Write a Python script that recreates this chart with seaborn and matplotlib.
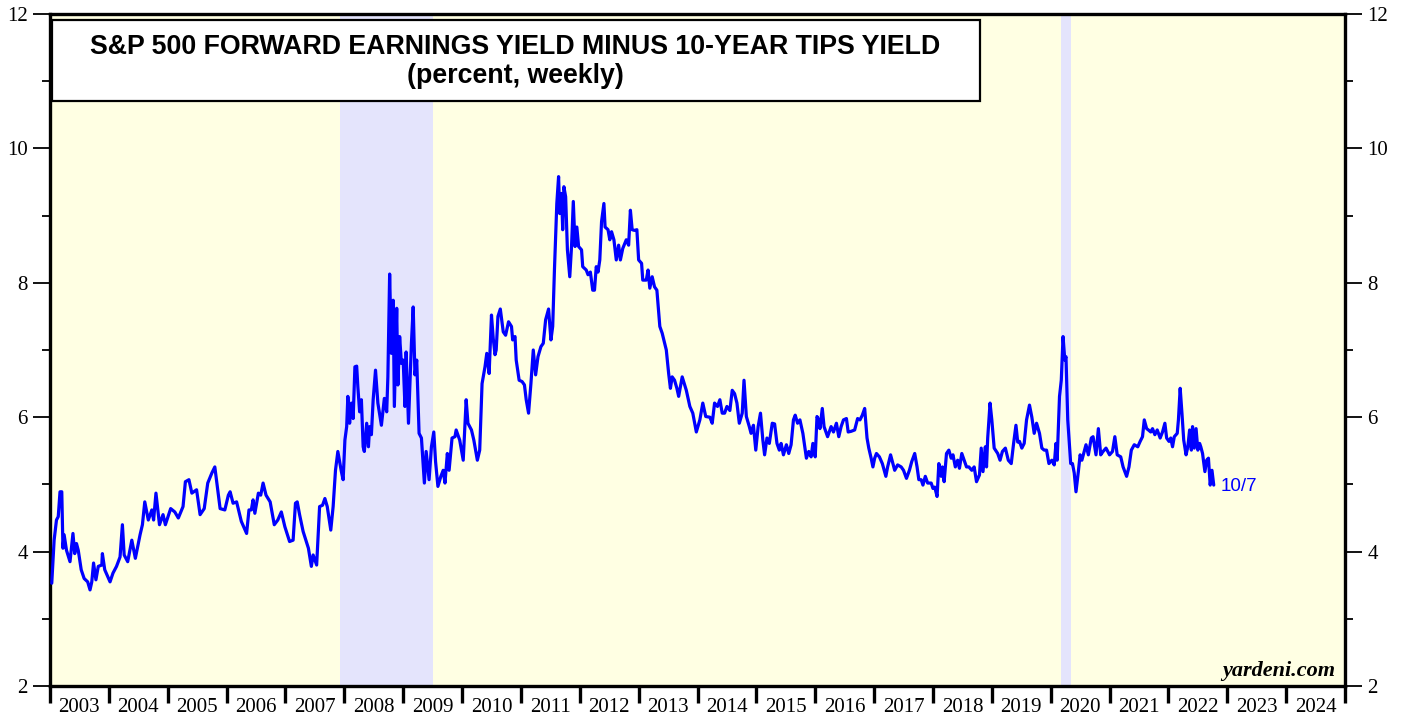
import pandas as pd
import matplotlib
matplotlib.use("Agg")
import matplotlib.pyplot as plt
import seaborn as sns
from matplotlib.patches import Rectangle

# weekly readings, dates as decimal years
weeks = [
    2003.03, 2003.07, 2003.11, 2003.14, 2003.17, 2003.20, 2003.22, 2003.24, 2003.28, 2003.34,
    2003.39, 2003.42, 2003.45, 2003.48, 2003.53, 2003.58, 2003.64, 2003.68, 2003.71, 2003.74,
    2003.78, 2003.82, 2003.88, 2003.89, 2003.93,
    2004.02, 2004.07, 2004.13, 2004.19, 2004.23, 2004.26, 2004.32, 2004.39, 2004.45, 2004.53,
    2004.57, 2004.61, 2004.67, 2004.73, 2004.76, 2004.80, 2004.86, 2004.92, 2004.96,
    2005.05, 2005.12, 2005.18, 2005.26, 2005.30, 2005.36, 2005.41, 2005.49, 2005.55, 2005.62,
    2005.68, 2005.75, 2005.80, 2005.89, 2005.97,
    2006.03, 2006.06, 2006.11, 2006.17, 2006.25, 2006.34, 2006.38, 2006.42, 2006.45, 2006.48,
    2006.54, 2006.58, 2006.62, 2006.67, 2006.74, 2006.81, 2006.87, 2006.93, 2006.99,
    2007.07, 2007.13, 2007.17, 2007.20, 2007.24, 2007.30, 2007.39, 2007.44, 2007.47, 2007.53,
    2007.58, 2007.63, 2007.67, 2007.71, 2007.77, 2007.81, 2007.85, 2007.89, 2007.95, 2007.98,
    2008.01, 2008.04, 2008.06, 2008.09, 2008.12, 2008.15, 2008.18, 2008.21, 2008.23, 2008.26,
    2008.29, 2008.32, 2008.34, 2008.38, 2008.41, 2008.43, 2008.46, 2008.49, 2008.53, 2008.57,
    2008.63, 2008.68, 2008.72, 2008.74, 2008.77, 2008.80, 2008.83, 2008.85, 2008.89, 2008.91,
    2008.94, 2008.97,
    2009.00, 2009.03, 2009.05, 2009.09, 2009.14, 2009.17, 2009.20, 2009.23, 2009.27, 2009.31,
    2009.36, 2009.39, 2009.42, 2009.44, 2009.48, 2009.52, 2009.55, 2009.59, 2009.64, 2009.68,
    2009.71, 2009.75, 2009.78, 2009.83, 2009.88, 2009.90, 2009.96,
    2010.02, 2010.07, 2010.10, 2010.16, 2010.20, 2010.26, 2010.30, 2010.34, 2010.39, 2010.42,
    2010.46, 2010.50, 2010.53, 2010.56, 2010.58, 2010.61, 2010.65, 2010.70, 2010.74, 2010.79,
    2010.84, 2010.86, 2010.90, 2010.92, 2010.97,
    2011.02, 2011.06, 2011.09, 2011.13, 2011.17, 2011.21, 2011.25, 2011.29, 2011.34, 2011.38,
    2011.42, 2011.47, 2011.51, 2011.54, 2011.57, 2011.61, 2011.64, 2011.66, 2011.69, 2011.71,
    2011.73, 2011.76, 2011.79, 2011.83, 2011.86, 2011.89, 2011.92, 2011.95, 2011.98,
    2012.03, 2012.05, 2012.11, 2012.14, 2012.18, 2012.22, 2012.25, 2012.28, 2012.31, 2012.34,
    2012.37, 2012.41, 2012.43, 2012.48, 2012.51, 2012.54, 2012.58, 2012.62, 2012.66, 2012.69,
    2012.73, 2012.79, 2012.83, 2012.86, 2012.89, 2012.93, 2012.97,
    2013.00, 2013.05, 2013.07, 2013.13, 2013.16, 2013.19, 2013.23, 2013.27, 2013.31, 2013.36,
    2013.40, 2013.47, 2013.51, 2013.54, 2013.57, 2013.61, 2013.65, 2013.68, 2013.74, 2013.81,
    2013.87, 2013.92, 2013.98,
    2014.04, 2014.09, 2014.14, 2014.21, 2014.25, 2014.29, 2014.34, 2014.38, 2014.42, 2014.46,
    2014.50, 2014.55, 2014.59, 2014.63, 2014.67, 2014.71, 2014.76, 2014.79, 2014.83, 2014.88,
    2014.91, 2014.95, 2014.99,
    2015.03, 2015.07, 2015.11, 2015.14, 2015.18, 2015.22, 2015.27, 2015.31, 2015.35, 2015.39,
    2015.42, 2015.46, 2015.51, 2015.55, 2015.59, 2015.63, 2015.66, 2015.70, 2015.74, 2015.79,
    2015.85, 2015.89, 2015.93, 2015.96,
    2016.00, 2016.03, 2016.06, 2016.08, 2016.12, 2016.15, 2016.21, 2016.27, 2016.31, 2016.36,
    2016.40, 2016.44, 2016.48, 2016.53, 2016.56, 2016.61, 2016.67, 2016.72, 2016.76, 2016.80,
    2016.84, 2016.88, 2016.91, 2016.95, 2016.98,
    2017.01, 2017.04, 2017.09, 2017.14, 2017.20, 2017.23, 2017.28, 2017.35, 2017.40, 2017.46,
    2017.50, 2017.55, 2017.60, 2017.64, 2017.69, 2017.73, 2017.76, 2017.80, 2017.83, 2017.87,
    2017.91, 2017.97,
    2018.00, 2018.03, 2018.07, 2018.10, 2018.14, 2018.16, 2018.19, 2018.23, 2018.27, 2018.31,
    2018.34, 2018.38, 2018.42, 2018.45, 2018.49, 2018.53, 2018.57, 2018.61, 2018.66, 2018.70,
    2018.74, 2018.79, 2018.82, 2018.85, 2018.89, 2018.91, 2018.93, 2018.97,
    2019.00, 2019.04, 2019.10, 2019.14, 2019.18, 2019.23, 2019.28, 2019.33, 2019.37, 2019.41,
    2019.44, 2019.47, 2019.51, 2019.55, 2019.59, 2019.64, 2019.68, 2019.72, 2019.76, 2019.81,
    2019.85, 2019.89, 2019.93, 2019.97,
    2020.02, 2020.06, 2020.09, 2020.11, 2020.15, 2020.18, 2020.21, 2020.24, 2020.26, 2020.29,
    2020.32, 2020.34, 2020.37, 2020.40, 2020.43, 2020.47, 2020.50, 2020.53, 2020.56, 2020.60,
    2020.64, 2020.69, 2020.72, 2020.77, 2020.81, 2020.85, 2020.89, 2020.94,
    2021.00, 2021.05, 2021.09, 2021.13, 2021.19, 2021.23, 2021.29, 2021.33, 2021.37, 2021.42,
    2021.48, 2021.52, 2021.56, 2021.59, 2021.63, 2021.66, 2021.70, 2021.73, 2021.77, 2021.81,
    2021.86, 2021.90, 2021.94, 2021.97,
    2022.01, 2022.04, 2022.07, 2022.10, 2022.15, 2022.17, 2022.20, 2022.23, 2022.26, 2022.30,
    2022.33, 2022.36, 2022.39, 2022.41, 2022.44, 2022.47, 2022.50, 2022.53, 2022.55, 2022.58,
    2022.62, 2022.65, 2022.68, 2022.71, 2022.74, 2022.77,
]

spread = [
    3.53, 4.17, 4.47, 4.52, 4.89, 4.89, 4.05, 4.25, 4.02, 3.85,
    4.27, 3.97, 4.12, 4.02, 3.73, 3.60, 3.55, 3.43, 3.55, 3.83,
    3.58, 3.78, 3.80, 3.97, 3.73,
    3.55, 3.68, 3.78, 3.92, 4.40, 3.95, 3.85, 4.17, 3.90, 4.25,
    4.40, 4.74, 4.47, 4.62, 4.47, 4.87, 4.40, 4.55, 4.40,
    4.64, 4.59, 4.50, 4.67, 5.04, 5.07, 4.87, 4.92, 4.55, 4.64,
    5.02, 5.17, 5.26, 4.64, 4.62,
    4.84, 4.89, 4.72, 4.74, 4.45, 4.27, 4.62, 4.62, 4.77, 4.57,
    4.87, 4.84, 5.02, 4.84, 4.74, 4.40, 4.47, 4.59, 4.37,
    4.15, 4.17, 4.72, 4.74, 4.55, 4.30, 4.05, 3.78, 3.95, 3.80,
    4.67, 4.69, 4.79, 4.67, 4.32, 4.67, 5.21, 5.49, 5.19, 5.07,
    5.66, 5.86, 6.31, 5.91, 6.21, 5.98, 6.75, 6.76, 6.45, 6.08,
    6.26, 5.56, 5.49, 5.91, 5.56, 5.86, 5.74, 6.26, 6.70, 6.21,
    5.88, 6.28, 6.08, 6.60, 8.13, 6.95, 7.74, 6.16, 7.62, 6.48,
    7.20, 6.80,
    6.85, 6.16, 6.97, 5.91, 7.10, 7.64, 6.63, 6.85, 5.76, 5.69,
    5.02, 5.49, 5.24, 5.07, 5.56, 5.78, 5.34, 4.97, 5.12, 5.21,
    5.02, 5.46, 5.21, 5.69, 5.71, 5.81, 5.66,
    5.36, 6.26, 5.91, 5.81, 5.66, 5.36, 5.51, 6.50, 6.75, 6.95,
    6.65, 7.52, 7.17, 6.93, 7.00, 7.50, 7.61, 7.27, 7.22, 7.42,
    7.35, 7.15, 7.20, 6.85, 6.55,
    6.53, 6.48, 6.26, 6.06, 6.50, 7.00, 6.63, 6.90, 7.05, 7.10,
    7.45, 7.61, 7.15, 7.35, 8.20, 9.18, 9.58, 9.03, 9.33, 8.79,
    9.43, 9.28, 8.49, 8.09, 8.54, 9.21, 8.54, 8.83, 8.54,
    8.49, 8.24, 8.19, 8.12, 8.16, 7.89, 7.89, 8.24, 8.16, 8.34,
    8.91, 9.18, 8.83, 8.79, 8.64, 8.76, 8.64, 8.34, 8.56, 8.34,
    8.51, 8.64, 8.56, 9.08, 8.79, 8.78, 8.79,
    8.34, 8.29, 8.04, 8.04, 8.19, 7.92, 8.09, 7.94, 7.89, 7.35,
    7.25, 7.00, 6.65, 6.43, 6.60, 6.55, 6.43, 6.31, 6.60, 6.40,
    6.16, 6.06, 5.78,
    5.96, 6.21, 6.01, 6.00, 5.91, 6.21, 6.16, 6.26, 6.06, 6.06,
    6.16, 6.10, 6.40, 6.35, 6.21, 5.91, 6.06, 6.55, 6.01, 5.86,
    5.76, 5.88, 5.51,
    5.86, 6.06, 5.66, 5.44, 5.69, 5.61, 5.91, 5.90, 5.61, 5.51,
    5.61, 5.44, 5.59, 5.46, 5.59, 5.96, 6.03, 5.91, 5.96, 5.76,
    5.39, 5.49, 5.41, 5.61,
    5.41, 6.01, 5.96, 5.83, 6.13, 5.86, 5.71, 5.86, 5.78, 5.91,
    5.71, 5.86, 5.96, 5.98, 5.78, 5.79, 5.81, 5.98, 5.96, 6.03,
    6.13, 5.69, 5.54, 5.39, 5.26,
    5.39, 5.46, 5.41, 5.31, 5.12, 5.26, 5.44, 5.21, 5.29, 5.26,
    5.21, 5.09, 5.21, 5.34, 5.46, 5.26, 5.07, 5.07, 4.99, 5.12,
    5.02, 5.02,
    4.94, 4.96, 4.82, 5.31, 5.12, 5.26, 5.04, 5.46, 5.51, 5.39,
    5.44, 5.26, 5.36, 5.24, 5.46, 5.36, 5.26, 5.26, 5.21, 5.26,
    5.04, 5.14, 5.54, 5.19, 5.56, 5.26, 5.69, 6.21,
    5.96, 5.54, 5.46, 5.36, 5.49, 5.54, 5.36, 5.31, 5.61, 5.88,
    5.63, 5.64, 5.54, 5.61, 5.96, 6.18, 6.00, 5.76, 5.91, 5.76,
    5.54, 5.51, 5.51, 5.31,
    5.36, 5.29, 5.61, 5.36, 6.31, 6.55, 7.20, 6.85, 6.90, 5.96,
    5.56, 5.31, 5.31, 5.17, 4.89, 5.19, 5.44, 5.36, 5.46, 5.59,
    5.44, 5.69, 5.71, 5.44, 5.83, 5.44, 5.49, 5.54,
    5.44, 5.49, 5.71, 5.44, 5.41, 5.26, 5.12, 5.26, 5.51, 5.59,
    5.56, 5.64, 5.71, 5.96, 5.83, 5.81, 5.78, 5.83, 5.74, 5.81,
    5.69, 5.78, 5.91, 5.69,
    5.64, 5.69, 5.56, 5.71, 5.76, 5.96, 6.43, 6.06, 5.66, 5.44,
    5.56, 5.81, 5.51, 5.86, 5.54, 5.83, 5.51, 5.61, 5.56, 5.46,
    5.19, 5.36, 5.39, 4.99, 5.21, 4.99,
]

# recessions (shaded)
rec_start = [2007.92, 2020.17]
rec_end = [2009.50, 2020.34]

years = list(range(2003, 2025))
last_label = "10/7"

df = pd.DataFrame({"date": weeks, "spread": spread})

sns.set_theme(style="ticks")
plt.rcParams["font.family"] = ["Liberation Serif", "DejaVu Serif"]
plt.rcParams["text.color"] = "black"

fig = plt.figure(figsize=(14.05, 7.17), dpi=100)
ax = fig.add_axes([50 / 1405, 31 / 717, 1295 / 1405, 672 / 717])
ax.set_facecolor("#ffffe3")

for s, e in zip(rec_start, rec_end):
    ax.axvspan(s, e, color="#e4e4fc", lw=0, zorder=0)

sns.lineplot(data=df, x="date", y="spread", color="#0000ff", lw=2.3,
             estimator=None, sort=False, ax=ax, zorder=3)

ax.set_xlim(2003, 2025)
ax.set_ylim(2, 12)
ax.set_xlabel("")
ax.set_ylabel("")

for sp in ax.spines.values():
    sp.set_linewidth(2.4)
    sp.set_color("black")
    sp.set_visible(True)

# y axis: labels both sides
ax.set_yticks(range(2, 13, 2))
ax.set_yticks(range(3, 12, 2), minor=True)
ax.tick_params(axis="y", which="both", direction="out", left=True, right=True,
               labelleft=True, labelright=True, labelsize=15, width=1.3,
               color="black", labelcolor="black", pad=4)
ax.tick_params(axis="y", which="major", length=12)
ax.tick_params(axis="y", which="minor", length=6)

# x axis: tick at year boundaries, label centred in the year
ax.set_xticks(range(2003, 2026))
ax.set_xticklabels([])
ax.set_xticks([y + 0.5 for y in years], minor=True)
ax.set_xticklabels([str(y) for y in years], minor=True)
ax.tick_params(axis="x", which="major", direction="out", length=12, width=2.4, color="black")
ax.tick_params(axis="x", which="minor", length=0, pad=9, labelsize=15, labelcolor="black")

# title box
ax.add_patch(Rectangle((0.0015, 0.8705), 0.7165, 0.1205, transform=ax.transAxes,
                       facecolor="white", edgecolor="black", lw=1.6, zorder=5))
ax.text(0.3595, 0.951, "S&P 500 FORWARD EARNINGS YIELD MINUS 10-YEAR TIPS YIELD",
        transform=ax.transAxes, ha="center", va="center", fontsize=19.3, color="black",
        fontweight="bold", family=["Liberation Sans", "DejaVu Sans"], zorder=6)
ax.text(0.3595, 0.907, "(percent, weekly)", transform=ax.transAxes, ha="center",
        va="center", fontsize=19.3, fontweight="bold", color="black",
        family=["Liberation Sans", "DejaVu Sans"], zorder=6)

# last reading label
ax.annotate(last_label, xy=(weeks[-1], spread[-1]), xytext=(5, -1),
            textcoords="offset points", ha="left", va="center", color="#0000ff",
            fontsize=13.5, family=["Liberation Sans", "DejaVu Sans"])

ax.text(0.9923, 0.015, "yardeni.com", transform=ax.transAxes, ha="right",
        va="baseline", fontsize=16, fontweight="bold", fontstyle="italic", color="black")

fig.savefig("out.png", dpi=100)
